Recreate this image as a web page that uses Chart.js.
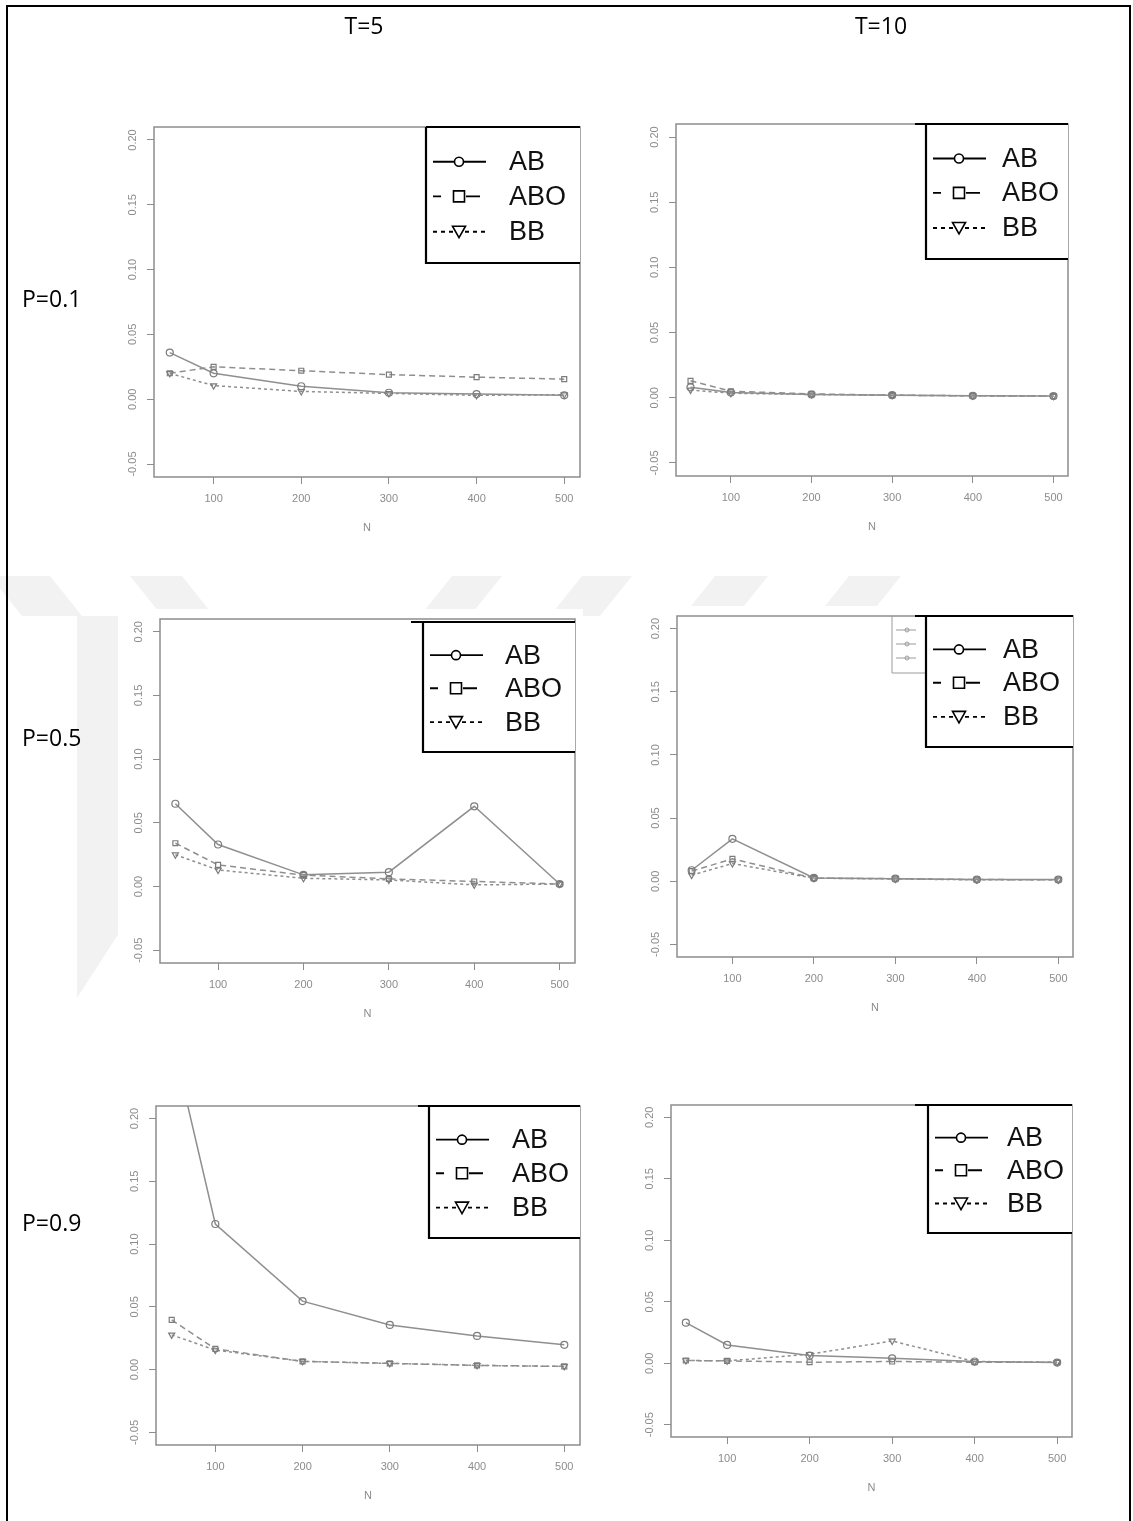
<!DOCTYPE html>
<html>
<head>
<meta charset="utf-8">
<script src="https://cdn.jsdelivr.net/npm/chart.js@4.4.0/dist/chart.umd.min.js"></script>
<style>
  body { margin: 0; background: #fff; width: 1133px; height: 1521px; position: relative; overflow: hidden; }
  #frame { position: absolute; left: 6px; top: 5px; width: 1121px; height: 1530px; border: 2px solid #000; border-bottom: none; }
  #wm { position: absolute; left: 0; top: 0; }
  .lab { position: absolute; font-family: "Open Sans", sans-serif; font-size: 23px; line-height: 23px; color: #000; white-space: nowrap; transform: translateY(-50%); }
  .col { transform: translate(-50%, -50%); }
</style>
</head>
<body>
<canvas id="wm" width="1133" height="1521"></canvas>
<div id="frame"></div>

<script>
// N values (x axis) and series names
const nValues = [50, 100, 200, 300, 400, 500]
const seriesNames = ["AB", "ABO", "BB"]
const xTicks = [100, 200, 300, 400, 500]
const yTicks = [-0.05, 0, 0.05, 0.1, 0.15, 0.2]
const yTickLabels = ["-0.05", "0.00", "0.05", "0.10", "0.15", "0.20"]
const colLabels = ["T=5", "T=10"]
const rowLabels = ["P=0.1", "P=0.5", "P=0.9"]

// T=5, P=0.1
const abT5P1 = [0.036, 0.020, 0.010, 0.005, 0.004, 0.003]
const aboT5P1 = [0.020, 0.025, 0.022, 0.019, 0.017, 0.0155]
const bbT5P1 = [0.020, 0.0105, 0.006, 0.0045, 0.003, 0.0035]

// T=10, P=0.1
const abT10P1 = [0.008, 0.004, 0.0025, 0.002, 0.0015, 0.0013]
const aboT10P1 = [0.013, 0.005, 0.003, 0.002, 0.0015, 0.0013]
const bbT10P1 = [0.006, 0.0035, 0.0025, 0.002, 0.0015, 0.0013]

// T=5, P=0.5
const abT5P5 = [0.065, 0.033, 0.0092, 0.0113, 0.063, 0.002]
const aboT5P5 = [0.034, 0.017, 0.009, 0.006, 0.004, 0.002]
const bbT5P5 = [0.025, 0.013, 0.0065, 0.0052, 0.0013, 0.002]

// T=10, P=0.5
const abT10P5 = [0.0087, 0.0336, 0.0026, 0.002, 0.0013, 0.0013]
const aboT10P5 = [0.008, 0.0177, 0.0024, 0.002, 0.0013, 0.0012]
const bbT10P5 = [0.0048, 0.014, 0.0024, 0.0018, 0.0011, 0.0011]

// T=5, P=0.9
const abT5P9 = [0.265, 0.116, 0.0546, 0.0356, 0.0269, 0.0198]
const aboT5P9 = [0.0396, 0.0166, 0.0066, 0.005, 0.0034, 0.0026]
const bbT5P9 = [0.0277, 0.0156, 0.0066, 0.005, 0.0034, 0.0026]

// T=10, P=0.9
const abT10P9 = [0.033, 0.0149, 0.0062, 0.004, 0.0014, 0.0005]
const aboT10P9 = [0.0022, 0.0019, 0.0008, 0.0014, 0.0008, 0.0008]
const bbT10P9 = [0.0022, 0.0019, 0.0073, 0.0181, 0.0014, 0.0008]

// line / marker styles per series (legend segments are offsets inside the legend box)
const seriesStyle = [
  { dash: [], legDash: [], legSeg: [[7, 60]], point: "circle", rot: 0 },
  { dash: [6, 4], legDash: [], legSeg: [[7, 15], [40, 54]], point: "rect", rot: 0 },
  { dash: [3, 3], legDash: [4, 4], legSeg: [[7, 60]], point: "triangle", rot: 180 }
]

// plot box in page pixels [left, top, right, bottom] + legend box sizes
const panels = [
  { data: [abT5P1, aboT5P1, bbT5P1], box: [154, 127, 580, 477], leg: { w: 154, h: 136, dy: 0, tx: 83, ext: 0 } },
  { data: [abT10P1, aboT10P1, bbT10P1], box: [676, 124, 1068, 476], leg: { w: 142, h: 135, dy: 0, tx: 76, ext: 11 } },
  { data: [abT5P5, aboT5P5, bbT5P5], box: [160, 619, 575, 963], leg: { w: 152, h: 130, dy: 3, tx: 82, ext: 12 } },
  { data: [abT10P5, aboT10P5, bbT10P5], box: [677, 616, 1073, 957], leg: { w: 147, h: 131, dy: 0, tx: 77, ext: 11, ghost: true } },
  { data: [abT5P9, aboT5P9, bbT5P9], box: [156, 1106, 580, 1445], leg: { w: 151, h: 132, dy: 0, tx: 83, ext: 11 } },
  { data: [abT10P9, aboT10P9, bbT10P9], box: [671, 1105, 1072, 1437], leg: { w: 144, h: 128, dy: 0, tx: 79, ext: 13 } }
]

// faint background watermark stripes
const wm = document.getElementById("wm").getContext("2d")
wm.fillStyle = "#f2f2f2"
const stripes = [[-10, 50, 1], [130, 182, 1], [452, 502, -1], [582, 632, -1], [715, 768, -1], [849, 901, -1]]
stripes.forEach(([a, b, d]) => {
  const y0 = 576, y1 = 616, dx = (y1 - y0) * 0.8 * d
  wm.beginPath()
  wm.moveTo(a, y0); wm.lineTo(b, y0); wm.lineTo(b + dx, y1); wm.lineTo(a + dx, y1)
  wm.closePath(); wm.fill()
})
wm.beginPath()
wm.moveTo(77, 616); wm.lineTo(119, 616); wm.lineTo(119, 933); wm.lineTo(77, 998)
wm.closePath(); wm.fill()

// page labels
colLabels.forEach((t, i) => {
  const d = document.createElement("div")
  d.className = "lab col"
  d.textContent = t
  d.style.left = (i === 0 ? 364 : 881) + "px"
  d.style.top = "25px"
  document.body.appendChild(d)
})
const rowY = [298, 737, 1222]
rowLabels.forEach((t, i) => {
  const d = document.createElement("div")
  d.className = "lab"
  d.textContent = t
  d.style.left = "22px"
  d.style.top = rowY[i] + "px"
  document.body.appendChild(d)
})

function drawMarker(ctx, kind, x, y) {
  ctx.beginPath()
  if (kind === "circle") {
    ctx.arc(x, y, 4.5, 0, Math.PI * 2)
  } else if (kind === "rect") {
    ctx.rect(x - 5.5, y - 5.5, 11, 11)
  } else {
    ctx.moveTo(x - 6.5, y - 5.5)
    ctx.lineTo(x + 6.5, y - 5.5)
    ctx.lineTo(x, y + 6)
    ctx.closePath()
  }
  ctx.fillStyle = "#fff"
  ctx.fill()
  ctx.stroke()
}

const rowFrac = [0.255, 0.51, 0.77]

const rPlot = {
  id: "rPlot",
  beforeDraw(chart) {
    const ctx = chart.ctx
    ctx.save()
    ctx.fillStyle = "#fff"
    ctx.fillRect(0, 0, chart.width, chart.height)
    ctx.restore()
  },
  afterDraw(chart, args, opts) {
    const ctx = chart.ctx
    const a = chart.chartArea
    ctx.save()

    // plot box
    ctx.strokeStyle = "#8d8d8d"
    ctx.lineWidth = 1.5
    ctx.strokeRect(a.left, a.top, a.right - a.left, a.bottom - a.top)

    // y tick labels, rotated like R
    const ys = chart.scales.y
    ctx.fillStyle = "#8c8c8c"
    ctx.font = "11px 'Liberation Sans'"
    ctx.textAlign = "center"
    ctx.textBaseline = "middle"
    yTicks.forEach((v, i) => {
      ctx.save()
      ctx.translate(a.left - 21, ys.getPixelForValue(v))
      ctx.rotate(-Math.PI / 2)
      ctx.fillText(yTickLabels[i], 0, 0)
      ctx.restore()
    })

    // ghost legend left over from an earlier plot
    const lx = a.right - opts.w
    const ly = a.top + opts.dy
    if (opts.ghost) {
      const gx = lx - 34
      ctx.strokeStyle = "#9a9a9a"
      ctx.lineWidth = 1
      ctx.beginPath()
      ctx.moveTo(gx, a.top); ctx.lineTo(gx, a.top + 57); ctx.lineTo(lx, a.top + 57)
      ctx.stroke()
      ;[14, 28, 42].forEach((dy) => {
        ctx.beginPath()
        ctx.moveTo(gx + 4, a.top + dy); ctx.lineTo(gx + 24, a.top + dy)
        ctx.stroke()
        ctx.beginPath()
        ctx.arc(gx + 15, a.top + dy, 2, 0, Math.PI * 2)
        ctx.stroke()
      })
    }

    // legend box
    ctx.fillStyle = "#fff"
    ctx.fillRect(lx, ly, a.right - lx, opts.h)
    ctx.strokeStyle = "#000"
    ctx.lineWidth = 2.2
    ctx.beginPath()
    ctx.moveTo(lx - opts.ext, ly); ctx.lineTo(a.right, ly)
    ctx.moveTo(lx, ly); ctx.lineTo(lx, ly + opts.h); ctx.lineTo(a.right, ly + opts.h)
    ctx.stroke()

    chart.data.datasets.forEach((ds, i) => {
      const y = ly + opts.h * rowFrac[i]
      const st = seriesStyle[i]
      ctx.strokeStyle = "#000"
      ctx.lineWidth = 1.9
      ctx.setLineDash(st.legDash)
      ctx.beginPath()
      st.legSeg.forEach(([s, e]) => { ctx.moveTo(lx + s, y); ctx.lineTo(lx + e, y) })
      ctx.stroke()
      ctx.setLineDash([])
      ctx.lineWidth = 1.6
      drawMarker(ctx, st.point, lx + 33, y)
      ctx.fillStyle = "#111"
      ctx.font = "27px 'Liberation Sans'"
      ctx.textAlign = "left"
      ctx.textBaseline = "middle"
      ctx.fillText(ds.label, lx + opts.tx, y + 1)
    })
    ctx.restore()
  }
}

panels.forEach((p) => {
  const [L, T, R, B] = p.box
  const cv = document.createElement("canvas")
  const w = R - L + 50
  const h = B - T + 72
  cv.width = w
  cv.height = h
  cv.style.cssText = `position:absolute;left:${L - 42}px;top:${T - 10}px;width:${w}px;height:${h}px`
  document.body.appendChild(cv)

  new Chart(cv, {
    type: "line",
    data: {
      datasets: seriesNames.map((name, i) => ({
        label: name,
        data: nValues.map((n, j) => ({ x: n, y: p.data[i][j] })),
        borderColor: "#8f8f8f",
        borderWidth: 1.5,
        borderDash: seriesStyle[i].dash,
        pointStyle: seriesStyle[i].point,
        pointRotation: seriesStyle[i].rot,
        pointRadius: 3.5,
        pointBorderColor: "#7c7c7c",
        pointBackgroundColor: "rgba(0,0,0,0)",
        pointBorderWidth: 1.2,
        tension: 0,
        fill: false
      }))
    },
    options: {
      responsive: false,
      animation: false,
      devicePixelRatio: 1,
      layout: { padding: { top: 10, right: 8, left: 0, bottom: 0 } },
      plugins: {
        legend: { display: false },
        tooltip: { enabled: false },
        rPlot: p.leg
      },
      scales: {
        x: {
          type: "linear",
          min: 32,
          max: 518,
          afterBuildTicks: (ax) => { ax.ticks = xTicks.map((v) => ({ value: v })) },
          afterFit: (ax) => { ax.height = 62; ax.paddingLeft = 0; ax.paddingRight = 0 },
          grid: { drawOnChartArea: false, tickLength: 7, color: "#8d8d8d" },
          border: { display: false },
          ticks: { color: "#8c8c8c", font: { size: 11, family: "Liberation Sans" }, padding: 8, maxRotation: 0, autoSkip: false },
          title: { display: true, text: "N", color: "#8c8c8c", font: { size: 11, family: "Liberation Sans" }, padding: { top: 0, bottom: 4 } }
        },
        y: {
          min: -0.06,
          max: 0.21,
          afterBuildTicks: (ax) => { ax.ticks = yTicks.map((v) => ({ value: v })) },
          afterFit: (ax) => { ax.width = 42; ax.paddingTop = 0; ax.paddingBottom = 0 },
          grid: { drawOnChartArea: false, tickLength: 7, color: "#8d8d8d" },
          border: { display: false },
          ticks: { display: false }
        }
      }
    },
    plugins: [rPlot]
  })
})
</script>
</body>
</html>
